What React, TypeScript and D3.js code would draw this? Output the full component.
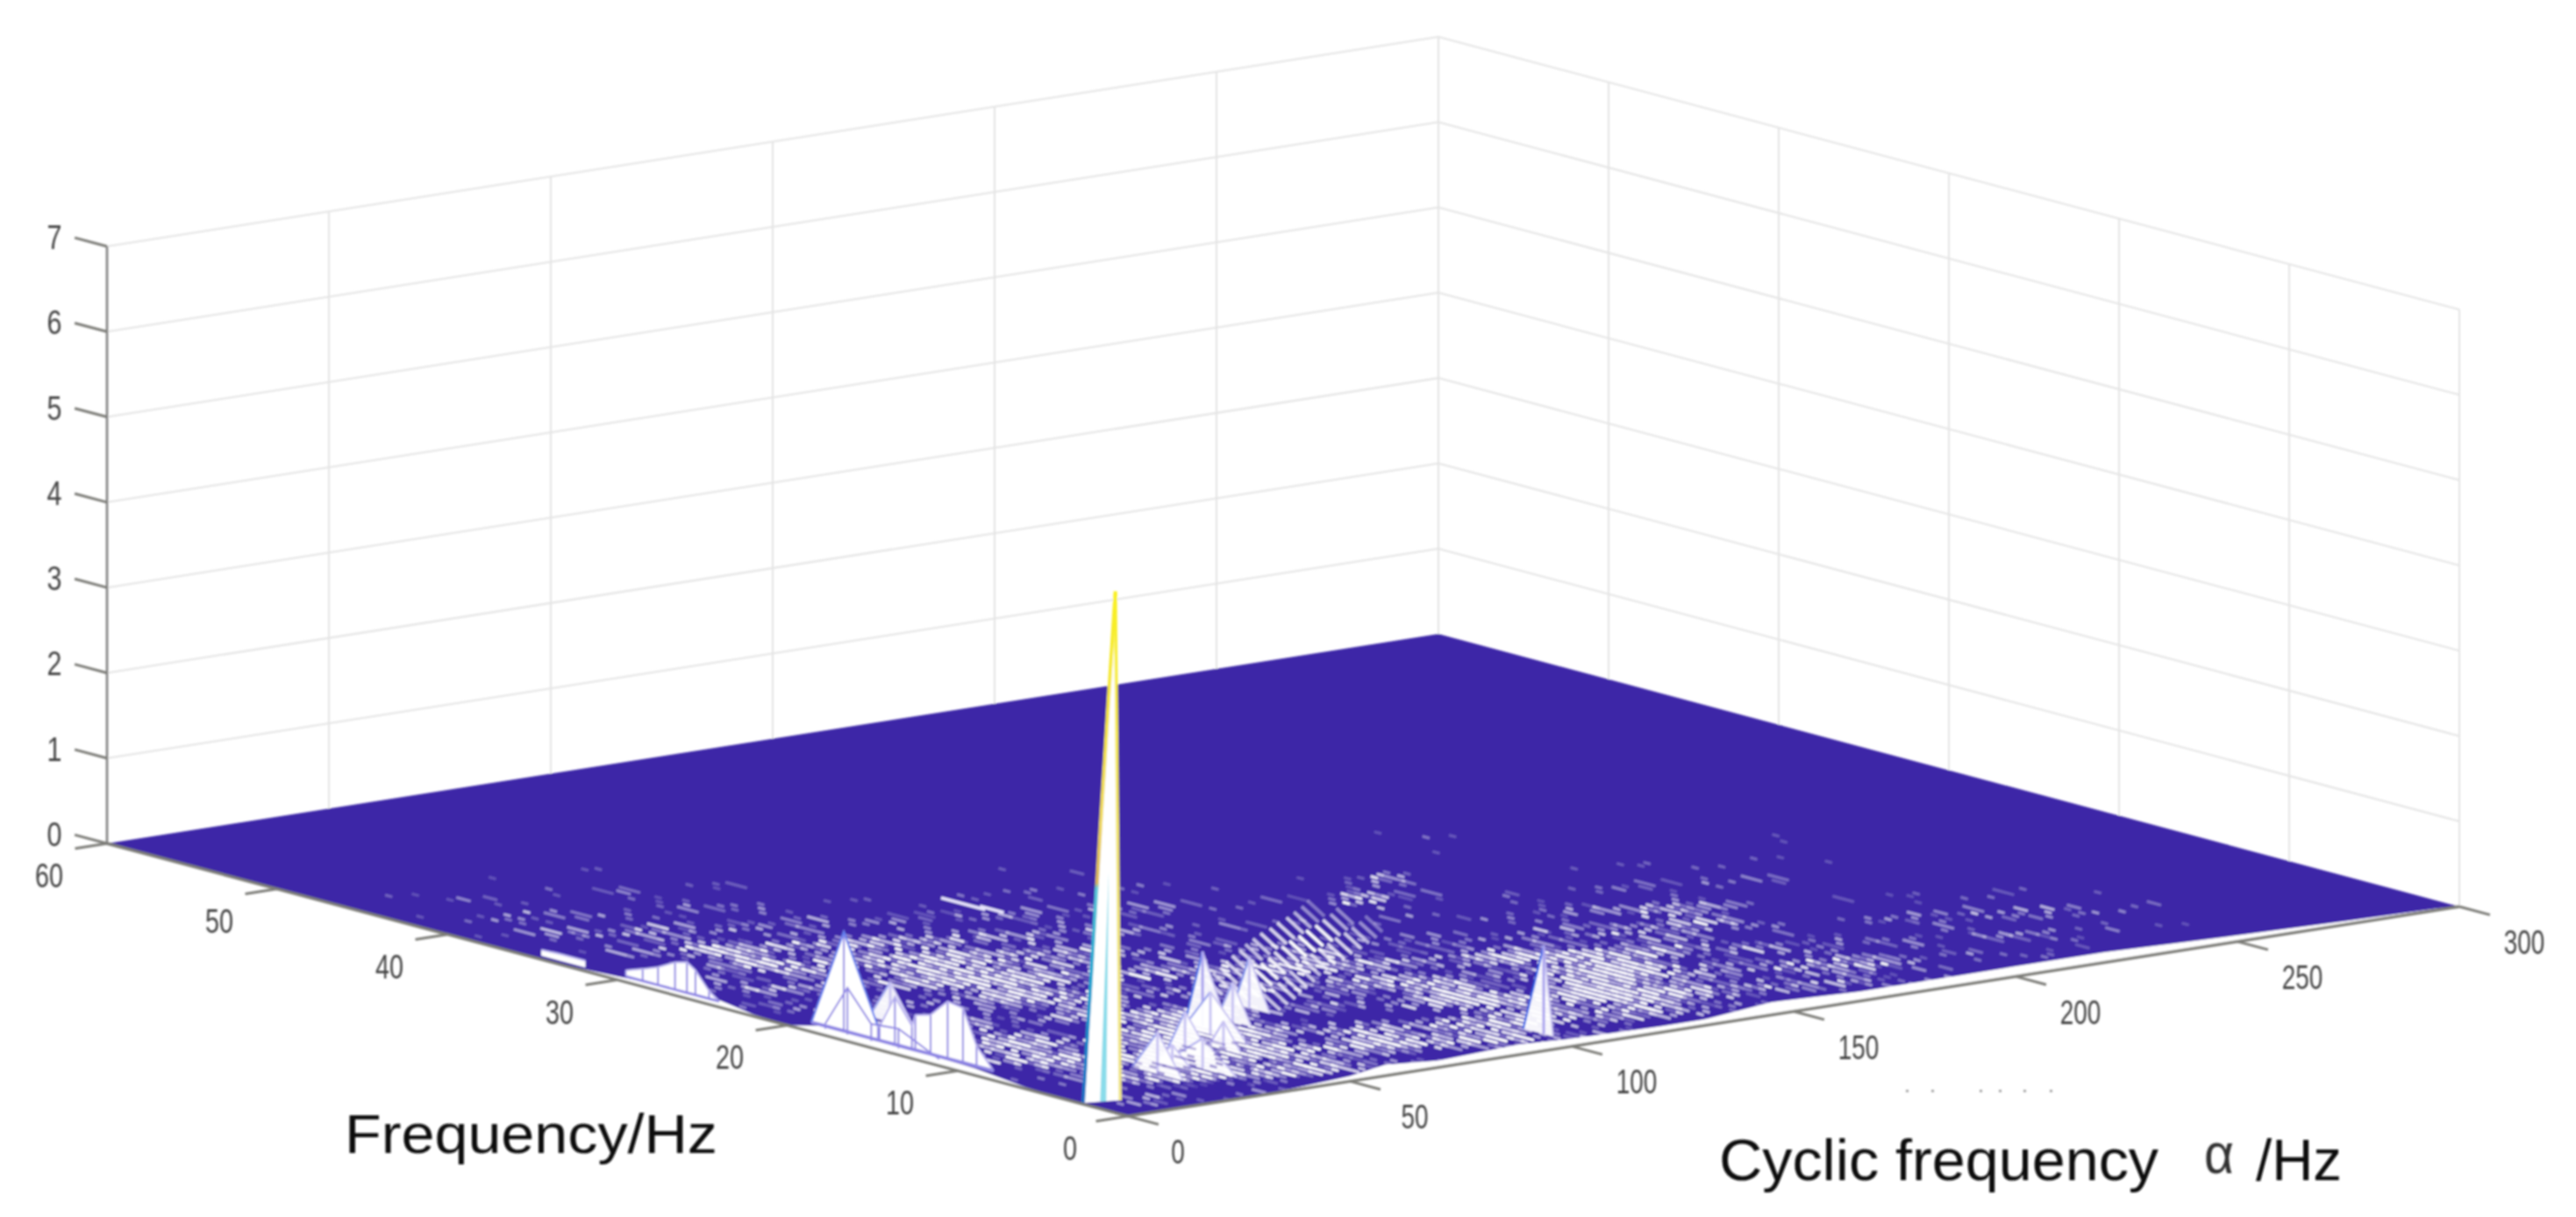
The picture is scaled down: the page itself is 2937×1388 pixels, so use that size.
import React from "react";
import * as d3 from "d3";

const WIDTH = 2937;
const HEIGHT = 1388;

// ---------- axes ----------
const alphaTicks = [0, 50, 100, 150, 200, 250, 300];
const freqTicks = [0, 10, 20, 30, 40, 50, 60];
const zTicks = [0, 1, 2, 3, 4, 5, 6, 7];
const freqTitle = "Frequency/Hz";
const alphaTitleA = "Cyclic frequency";
const alphaTitleB = "α";
const alphaTitleC = "/Hz";

// ---------- main spike ----------
const spikeApex = [1, 1, 6.09];
const spikeLeft = [0.64, 2.8];
const spikeInner = [4.4, 2.6];
const spikeRight = [7.3, 2.36];

// ---------- low-level roughness: alpha, f centre, extents, strength ----------
const patchAlpha = [26, 30, 53, 18.5, 56.5, 50, 23, 18.6, 86, 110, 78, 28, 108, 77, 50, 56.5, 94, 113, 137, 135, 146, 151, 167, 129, 187.5, 170, 201, 234, 150, 184, 220, 241, 218, 212, 152, 164, 145, 187, 197, 172, 105, 12, 8, 45, 60, 60, 150, 230, 30, 120, 110, 170, 60, 20, 15, 87];
const patchFreq = [29.3, 30.7, 38.8, 40.2, 26, 19.3, 13.8, 9.3, 27.9, 28, 19.5, 4, 10.4, 5.5, 2.5, 5.4, 4, 9.7, 13.7, 7.4, 11.5, 9.5, 12.2, 4.5, 15.6, 18.8, 21.7, 23.4, 4, 5.8, 10, 7.2, 4.3, 19.6, 25.9, 27.5, 24, 31.6, 33.5, 29.5, 17.5, 24, 1.5, 8, 11, 20, 12, 8, 35, 30, 3.5, 4, 3, 16, 8, 11.7];
const patchSpanA = [20, 4, 18, 12, 18, 12, 10, 10, 20, 20, 15, 14, 15, 8, 14, 12, 12, 8, 10, 10, 10, 8, 14, 14, 10, 25, 15, 8, 20, 15, 20, 15, 15, 10, 6, 5, 5, 7, 6, 5, 28, 8, 8, 16, 12, 45, 50, 35, 25, 30, 40, 30, 25, 15, 12, 14];
const patchSpanF = [8, 4, 10, 6, 6, 7, 5, 4, 7, 6, 7, 3, 8, 2.5, 2, 3, 3, 4, 3, 3, 3, 3, 5, 3, 3, 6, 4, 3, 3, 4, 3, 3, 2.5, 3, 2, 1.8, 2, 2, 1.5, 1.5, 3.5, 5, 1, 4, 3.5, 18, 10, 8, 12, 8, 3.5, 3.5, 3, 7, 4, 3];
const patchLevel = [0.32, 0.5, 0.18, 0.24, 0.44, 0.56, 0.4, 0.3, 0.22, 0.18, 0.26, 0.5, 0.38, 0.66, 0.28, 0.26, 0.5, 0.5, 0.5, 0.72, 0.4, 0.5, 0.34, 0.32, 0.45, 0.2, 0.15, 0.22, 0.2, 0.38, 0.26, 0.22, 0.24, 0.17, 0.55, 0.55, 0.44, 0.26, 0.22, 0.17, 0.36, 0.24, 0.45, 0.75, 0.6, 0.13, 0.13, 0.1, 0.09, 0.07, 0.2, 0.2, 0.2, 0.22, 0.22, 0.2];

// texture tables used to break the level above into mesh-sized streaks
const ditherA = [0.62, 0.11, 0.83, 0.37, 0.95, 0.24, 0.58, 0.03, 0.71, 0.46, 0.89, 0.16, 0.53, 0.78, 0.31, 0.99, 0.08, 0.66, 0.42, 0.87, 0.2, 0.74, 0.5];
const ditherB = [0.35, 0.91, 0.14, 0.68, 0.47, 0.05, 0.82, 0.27, 0.6, 0.97, 0.19, 0.73, 0.4, 0.55, 0.86, 0.1, 0.64, 0.3, 0.77];
const streakCells = [1, 1, 2, 1, 1, 3, 1];

// cluster of mesh hatch over the ribs right of the spike
const hatchAlpha = [32, 48];
const hatchFreq = [4.4, 6.4];
const hatchSpanA = [12, 9];
const hatchSpanF = [2.6, 2];

// individually legible bright streak
const brightAlpha = [89.4, 90.5];
const brightFreq = [33, 31.6];
const brightSpan = [2.6, 1.4];

// ---------- diagonal ridge f ~ alpha / 6 ----------
const ridgeAlpha = [78, 82, 86, 90, 94, 98, 102, 106, 110, 114, 118, 122, 126, 130, 134];
const ridgeFreq = [13.6, 14.2, 14.8, 15.5, 16.2, 16.8, 17.5, 18.1, 18.7, 19.2, 19.8, 20.3, 20.9, 21.5, 22.2];
const ridgeLevel = [0.9, 0.9, 0.95, 0.95, 0.95, 0.9, 0.85, 0.9, 1, 1, 1, 0.95, 0.8, 0.6, 0.45];

// ---------- ribs: alpha, f, height, extent toward larger f, extent toward smaller f ----------
const ribAlpha = [102.5, 74.5, 65, 58.6, 55, 49.9, 42, 36, 33, 26.6, 16.6];
const ribFreq = [2.3, 12.3, 10.8, 10.9, 9.5, 7.4, 7.6, 5, 6, 5.2, 18.3];
const ribHeight = [1.04, 0.6, 0.46, 0.87, 0.5, 0.31, 0.48, 0.35, 0.25, 0.49, 0.46];
const ribBack = [1.2, 0.9, 0.9, 1, 1.6, 0.8, 1, 2, 1, 1.5, 1.2];
const ribFront = [0.55, 1.2, 1.1, 1.6, 2.2, 1, 1.6, 2, 1.2, 1.5, 1.4];

// ---------- curtains near the frequency axis ----------
const curtainA_alpha = 5;
const curtainA_f = [19.9, 18, 16, 15.9, 15, 14, 13.8, 12.9, 11.9, 11, 10.2, 9.2];
const curtainA_z = [0, 1.16, 0.16, 0.16, 0.56, 0.27, 0.41, 0.46, 0.67, 0.64, 0.24, 0];
const curtainB_alpha = 3.5;
const curtainB_f = [18.7, 17.4, 16, 14.4, 12];
const curtainB_z = [0.06, 0.55, 0.2, 0.23, 0];
const curtainC_alpha = 3;
const curtainC_f = [30.3, 29.3, 28.4, 27.4, 26.7, 26.2, 25.4, 24.8];
const curtainC_z = [0.07, 0.14, 0.21, 0.32, 0.36, 0.29, 0.09, 0];
const curtainD_alpha = 2;
const curtainD_f = [35, 33.8, 32.4];
const curtainD_z = [0.07, 0.08, 0.08];

// ---------- lifted surface edges (white gap above the axes) ----------
const edgeAlpha = [30, 40, 50, 58, 70, 88, 100, 120, 130, 145, 165, 200, 220, 245, 275, 295, 300];
const edgeLift = [0, 0.03, 0.06, 0.13, 0.08, 0.12, 0.09, 0.07, 0.07, 0.15, 0.11, 0.12, 0.12, 0.08, 0.04, 0.02, 0];
const sideFreq = [34, 30, 27, 24, 22, 20, 18, 12, 9, 6, 4];
const sideLift = [0, 0.04, 0.08, 0.08, 0.02, 0, 0.1, 0.1, 0.08, 0.02, 0];

// faint dots left in the scan under the axis
const scanDotsX = [2173, 2202, 2257, 2279, 2307, 2337];

// ---------- projection ----------
const OX = 1286;
const OY = 1273;
const aX = d3.scaleLinear([0, 300], [0, 1518]);
const aY = d3.scaleLinear([0, 300], [0, -239]);
const fX = d3.scaleLinear([0, 60], [0, -1164]);
const fY = d3.scaleLinear([0, 60], [0, -311]);
const zY = d3.scaleLinear([0, 7], [0, -681]);
const P = (a: number, f: number, z = 0): [number, number] => [OX + aX(a) + fX(f), OY + aY(a) + fY(f) + zY(z)];
const poly = d3.line<[number, number]>();
const closed = (pts: [number, number][]) => poly(pts) + "Z";

const BLUE = "#3c27a7";
const GRID = "#e4e4e4";
const AXIS = "#7d7d78";
const LILAC = "#8f86e4";
const TEXT = "#454545";
const FONT = "'Liberation Sans', Arial, sans-serif";
const tipColor = d3.scaleLinear<string>([0.3, 1.05], ["#c3bdf2", "#2f62e8"]).clamp(true);

function level(a: number, f: number) {
  let s = 0;
  patchAlpha.forEach((pa, k) => {
    const da = (a - pa) / patchSpanA[k];
    const df = (f - patchFreq[k]) / patchSpanF[k];
    s += patchLevel[k] * Math.exp(-da * da - df * df);
  });
  return Math.min(1, s);
}

function hatchLevel(a: number, f: number) {
  let s = 0;
  hatchAlpha.forEach((pa, k) => {
    const da = (a - pa) / hatchSpanA[k];
    const df = (f - hatchFreq[k]) / hatchSpanF[k];
    s += Math.exp(-da * da - df * df);
  });
  return Math.min(1, s);
}

const threshold = (i: number, j: number) => 0.5 * (ditherA[(i * 7 + j) % 23] + ditherB[(j * 3 + i * 11) % 19]);

function buildStreaks() {
  const out: { d: string; o: number }[] = [];
  const hatch: { d: string; o: number }[] = [];
  const da = 2.2;
  const df = 0.42;
  for (let i = 0; 1.1 + i * da < 299; i++) {
    const a = 1.1 + i * da;
    for (let j = 0; 0.2 + j * df < 60; j++) {
      const f = 0.2 + j * df + (i % 2) * 0.2;
      const D = level(a, f);
      const H = hatchLevel(a, f);
      const t = threshold(i, j);
      const n = streakCells[(i + j * 2) % 7];
      const d = poly([P(a, f + (n * df) / 2), P(a, f - (n * df) / 2)])!;
      if (H > 0.3 && t > 0.66) hatch.push({ d, o: 0.25 + 0.3 * H });
      if (D < 0.05 || D <= t) continue;
      out.push({ d, o: 0.2 + 0.8 * Math.min(1, (D - t) * 2.2) });
    }
  }
  return { out, hatch };
}

function Curtain({ alpha, fs, zs, fill, drops = true }: { alpha: number; fs: number[]; zs: number[]; fill: boolean; drops?: boolean }) {
  const top = fs.map((f, k) => P(alpha, f, zs[k]));
  const bottom = fs.map((f) => P(alpha, f, 0)).reverse();
  return (
    <g>
      {fill && <path d={closed([...top, ...bottom])} fill="#fff" />}
      {drops && fs.map((f, k) => <path key={k} d={poly([P(alpha, f, zs[k]), P(alpha, f, 0)])!} stroke={LILAC} strokeWidth={2} fill="none" />)}
      <path d={poly(top)!} stroke={fill ? "#b9b3f0" : LILAC} strokeWidth={2} fill="none" />
    </g>
  );
}

export default function App() {
  const { out: streaks, hatch } = React.useMemo(buildStreaks, []);
  const floor = closed([P(0, 0), P(300, 0), P(300, 60), P(0, 60)]);
  const edgeStrip = closed([...edgeAlpha.map((a, k) => P(a, 0, edgeLift[k])), P(300, 0), P(30, 0)]);
  const sideStrip = closed([...sideFreq.map((f, k) => P(0, f, sideLift[k])), P(0, 4), P(0, 34)]);
  const [apx, apy] = P(spikeApex[0], spikeApex[1], spikeApex[2]);
  const sl = P(spikeLeft[0], spikeLeft[1]);
  const si = P(spikeInner[0], spikeInner[1]);
  const sr = P(spikeRight[0], spikeRight[1]);
  const innerTop: [number, number] = [si[0] + (apx - si[0]) * 0.45, si[1] + (apy - si[1]) * 0.45];
  const innerWedge: [number, number][] = [[si[0] - 3.5, si[1]], [si[0] + 3.5, si[1]], innerTop];

  return (
    <svg width={WIDTH} height={HEIGHT} viewBox={`0 0 ${WIDTH} ${HEIGHT}`} style={{ position: "absolute", left: 0, top: 0, display: "block", background: "#fff" }}>
      <defs>
        <filter id="soft" filterUnits="userSpaceOnUse" x={0} y={0} width={WIDTH} height={HEIGHT}>
          <feGaussianBlur stdDeviation={1} />
        </filter>
        <linearGradient id="spikeL" gradientUnits="userSpaceOnUse" x1={0} x2={0} y1={sl[1]} y2={apy}>
          <stop offset={0} stopColor="#1c6fc4" />
          <stop offset={0.25} stopColor="#1ea7d0" />
          <stop offset={0.42} stopColor="#5fc8d8" />
          <stop offset={0.43} stopColor="#d8b45a" />
          <stop offset={0.55} stopColor="#efd95e" />
          <stop offset={1} stopColor="#f9f01e" />
        </linearGradient>
        <linearGradient id="spikeR" gradientUnits="userSpaceOnUse" x1={0} x2={0} y1={sr[1]} y2={apy}>
          <stop offset={0} stopColor="#f0e68a" />
          <stop offset={0.5} stopColor="#efe26a" />
          <stop offset={1} stopColor="#f9f01e" />
        </linearGradient>
      </defs>
      <g filter="url(#soft)">
        {/* walls */}
        {zTicks.slice(1).map((z) => (
          <path key={z} d={poly([P(0, 60, z), P(300, 60, z), P(300, 0, z)])!} fill="none" stroke={GRID} strokeWidth={2} />
        ))}
        {alphaTicks.slice(1).map((a) => (
          <path key={a} d={poly([P(a, 60, 0), P(a, 60, 7)])!} stroke={GRID} strokeWidth={2} />
        ))}
        {freqTicks.slice(0, 6).map((f) => (
          <path key={f} d={poly([P(300, f, 0), P(300, f, 7)])!} stroke={GRID} strokeWidth={2} />
        ))}

        {/* surface */}
        <path d={floor} fill={BLUE} />
        {streaks.map((s, k) => (
          <path key={k} d={s.d} stroke="#fff" strokeOpacity={s.o} strokeWidth={3} fill="none" />
        ))}
        {brightAlpha.map((a, k) => (
          <path key={k} d={poly([P(a, brightFreq[k] + brightSpan[k] / 2), P(a, brightFreq[k] - brightSpan[k] / 2)])!} stroke="#e6e3fb" strokeWidth={3.5} fill="none" />
        ))}
        {ridgeAlpha.map((a, k) =>
          [-1.7, 0, 1.7].map((off) => (
            <path
              key={`${k}${off}`}
              d={poly([P(a, ridgeFreq[k] + off + 0.5, 0.13), P(a, ridgeFreq[k] + off - 0.5, 0)])!}
              stroke="#fff"
              strokeOpacity={ridgeLevel[k] * (off === 0 ? 1 : 0.8)}
              strokeWidth={3.6}
              fill="none"
            />
          ))
        )}
        <path d={edgeStrip} fill="#fff" />
        <path d={sideStrip} fill="#fff" />

        {/* ribs, far to near */}
        {ribAlpha.map((a, k) => {
          const f = ribFreq[k];
          const z = ribHeight[k];
          const tip = P(a, f, z);
          const bl = P(a, f + ribBack[k]);
          const br = P(a, f - ribFront[k]);
          const base = P(a, f);
          return (
            <g key={k}>
              <path d={closed([tip, bl, br])} fill="#fff" fillOpacity={0.94} />
              <path d={poly([tip, bl])!} stroke={tipColor(z)} strokeWidth={2.4} fill="none" />
              <path d={poly([tip, br])!} stroke="#c9c4f3" strokeWidth={2} fill="none" />
              <path d={poly([tip, base])!} stroke={z > 0.8 ? "#a9a2ee" : "#c9c4f3"} strokeWidth={3} fill="none" />
            </g>
          );
        })}
        {hatch.map((s, k) => (
          <path key={k} d={s.d} stroke={BLUE} strokeOpacity={s.o} strokeWidth={2.6} fill="none" />
        ))}
        {/* lattice between curtains and the axis */}
        <Curtain alpha={curtainD_alpha} fs={curtainD_f} zs={curtainD_z} fill drops={false} />
        <Curtain alpha={curtainC_alpha} fs={curtainC_f} zs={curtainC_z} fill />
        <Curtain alpha={curtainA_alpha} fs={curtainA_f} zs={curtainA_z} fill />
        <path d={poly(curtainA_f.slice(0, 3).map((f, k) => P(curtainA_alpha, f, curtainA_z[k])))!} stroke="#5d7cf0" strokeWidth={2} fill="none" />
        <Curtain alpha={curtainB_alpha} fs={curtainB_f} zs={curtainB_z} fill={false} />
        <path d={poly(curtainA_f.map((f) => P(curtainA_alpha, f)))!} stroke={LILAC} strokeWidth={4} fill="none" />
        <path d={poly(curtainC_f.map((f) => P(curtainC_alpha, f)))!} stroke={LILAC} strokeWidth={3} fill="none" />

        {/* spike */}
        <path d={closed([[apx, apy], sl, sr])} fill="#fff" />
        <path d={closed(innerWedge)} fill="#8adcea" />
        <path d={poly([sl, [apx, apy]])!} stroke="url(#spikeL)" strokeWidth={4} fill="none" />
        <path d={poly([sr, [apx, apy]])!} stroke="url(#spikeR)" strokeWidth={3.6} fill="none" />

        {/* axes */}
        <path d={poly([P(0, 60, 0), P(0, 60, 7)])!} stroke="#808080" strokeWidth={2.6} fill="none" />
        <path d={poly([P(0, 60), P(0, 0), P(300, 0)])!} stroke={AXIS} strokeWidth={3.4} fill="none" />
        {zTicks.map((z) => (
          <path key={z} d={poly([P(0, 60, z), P(0, 61.9, z)])!} stroke={AXIS} strokeWidth={3} fill="none" />
        ))}
        {freqTicks.map((f) => (
          <path key={f} d={poly([P(0, f), P(-7.2, f)])!} stroke={AXIS} strokeWidth={3} fill="none" />
        ))}
        {alphaTicks.map((a) => (
          <path key={a} d={poly([P(a, 0), P(a, -1.8)])!} stroke={AXIS} strokeWidth={3} fill="none" />
        ))}

        {/* tick labels */}
        {zTicks.map((z) => {
          const [x, y] = P(0, 60, z);
          return (
            <text key={z} x={x - 60} y={y + 3} textAnchor="middle" fontFamily={FONT} fontSize={38} fill={TEXT} textLength={17} lengthAdjust="spacingAndGlyphs">
              {z}
            </text>
          );
        })}
        {freqTicks.map((f) => {
          const [x, y] = P(0, f);
          const s = String(f);
          return (
            <text key={f} x={x - 66} y={y + 50} textAnchor="middle" fontFamily={FONT} fontSize={38} fill={TEXT} textLength={16 * s.length} lengthAdjust="spacingAndGlyphs">
              {s}
            </text>
          );
        })}
        {alphaTicks.map((a) => {
          const [x, y] = P(a, 0);
          const s = String(a);
          return (
            <text key={a} x={x + (a === 0 ? 57 : 74)} y={y + 54} textAnchor="middle" fontFamily={FONT} fontSize={38} fill={TEXT} textLength={15.5 * s.length} lengthAdjust="spacingAndGlyphs">
              {s}
            </text>
          );
        })}

        {/* titles */}
        <text x={393} y={1315} fontFamily={FONT} fontSize={63} fill="#111" textLength={425} lengthAdjust="spacingAndGlyphs">
          {freqTitle}
        </text>
        <text x={1960} y={1346} fontFamily={FONT} fontSize={66} fill="#111" textLength={501} lengthAdjust="spacingAndGlyphs">
          {alphaTitleA}
        </text>
        <text x={2513} y={1338} fontFamily="'Liberation Sans', sans-serif" fontSize={64} fill="#333" textLength={34} lengthAdjust="spacingAndGlyphs">
          {alphaTitleB}
        </text>
        <text x={2572} y={1346} fontFamily={FONT} fontSize={66} fill="#111" textLength={98} lengthAdjust="spacingAndGlyphs">
          {alphaTitleC}
        </text>
        {scanDotsX.map((x) => (
          <rect key={x} x={x} y={1243} width={3} height={2.5} fill="#999" />
        ))}
      </g>
    </svg>
  );
}
